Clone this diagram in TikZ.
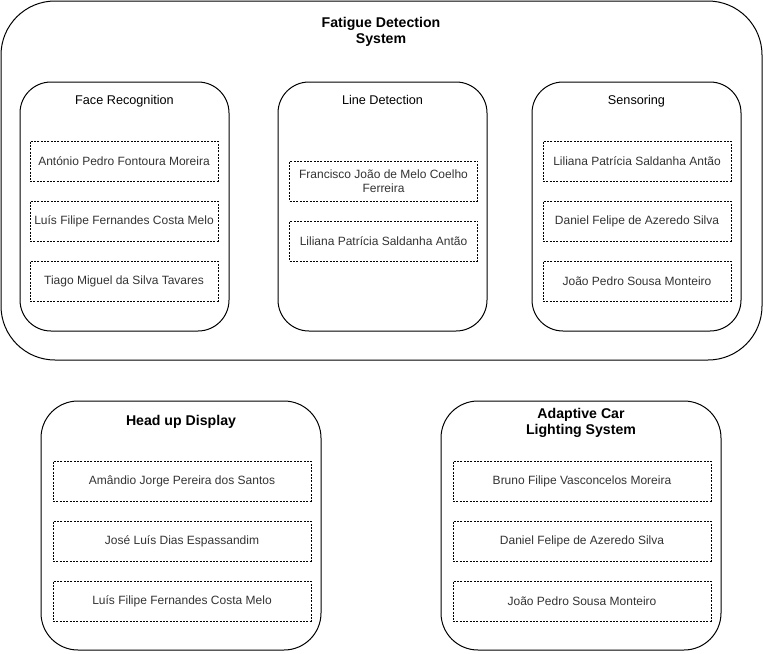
\documentclass[tikz,border=0pt]{standalone}
\usepackage{fontspec}
\setmainfont{Liberation Sans}
\usetikzlibrary{positioning}

\definecolor{nametext}{HTML}{333333}

\tikzset{
  system/.style={draw, line width=0.75pt, rounded corners=40.5pt,
    minimum width=570.75pt, minimum height=269.25pt},
  module/.style={draw, line width=0.75pt, rounded corners=23.25pt,
    minimum width=156.75pt, minimum height=186.75pt},
  bigmodule/.style={draw, line width=0.75pt, rounded corners=27.75pt,
    minimum width=210pt, minimum height=186.75pt},
  member/.style={draw, line width=0.6pt, dash pattern=on 1.5pt off 1pt,
    minimum width=141pt, minimum height=30pt, inner sep=1pt,
    align=center, text=nametext, font=\fontsize{9pt}{10.5pt}\selectfont},
  widemember/.style={member, minimum width=193.5pt},
  title/.style={align=center, font=\bfseries\fontsize{10.6pt}{12.5pt}\selectfont},
  subtitle/.style={text height=7pt, text depth=2pt,
    font=\fontsize{9.5pt}{11pt}\selectfont}
}

\begin{document}
\begin{tikzpicture}[x=0.75pt,y=-0.75pt,node distance=45pt,on grid]
\useasboundingbox (0,0) rectangle (763,653);

% fatigue detection system
\node[system] (fatigue) at (381.5,180.5) {};
\node[title] (fatigue_t) at (381,32) {Fatigue Detection\\System};

\node[module] (face) at (124.5,206.5) {};
\node[subtitle] (face_t) at (124.5,101.5) {Face Recognition};
\node[member] (face_1) at (124,161) {António Pedro Fontoura Moreira};
\node[member] (face_2) [below=of face_1] {Luís Filipe Fernandes Costa Melo};
\node[member] (face_3) [below=of face_2] {Tiago Miguel da Silva Tavares};

\node[module] (line) at (382.5,206.5) {};
\node[subtitle] (line_t) at (382.5,101.5) {Line Detection};
\node[member] (line_1) at (383.5,181) {Francisco João de Melo Coelho\\Ferreira};
\node[member] (line_2) [below=of line_1] {Liliana Patrícia Saldanha Antão};

\node[module] (sens) at (636.5,206.5) {};
\node[subtitle] (sens_t) at (636.5,101.5) {Sensoring};
\node[member] (sens_1) at (637,161) {Liliana Patrícia Saldanha Antão};
\node[member] (sens_2) [below=of sens_1] {Daniel Felipe de Azeredo Silva};
\node[member] (sens_3) [below=of sens_2] {João Pedro Sousa Monteiro};

% head up display
\node[bigmodule] (hud) at (181,525.5) {};
\node[title] (hud_t) at (181,422) {Head up Display};
\node[widemember] (hud_1) at (182,481) {Amândio Jorge Pereira dos Santos};
\node[widemember] (hud_2) [below=of hud_1] {José Luís Dias Espassandim};
\node[widemember] (hud_3) [below=of hud_2] {Luís Filipe Fernandes Costa Melo};

% adaptive car lighting
\node[bigmodule] (acl) at (581,525.5) {};
\node[title] (acl_t) at (581,423) {Adaptive Car\\Lighting System};
\node[widemember] (acl_1) at (582,481) {Bruno Filipe Vasconcelos Moreira};
\node[widemember] (acl_2) [below=of acl_1] {Daniel Felipe de Azeredo Silva};
\node[widemember] (acl_3) [below=of acl_2] {João Pedro Sousa Monteiro};

\end{tikzpicture}
\end{document}
